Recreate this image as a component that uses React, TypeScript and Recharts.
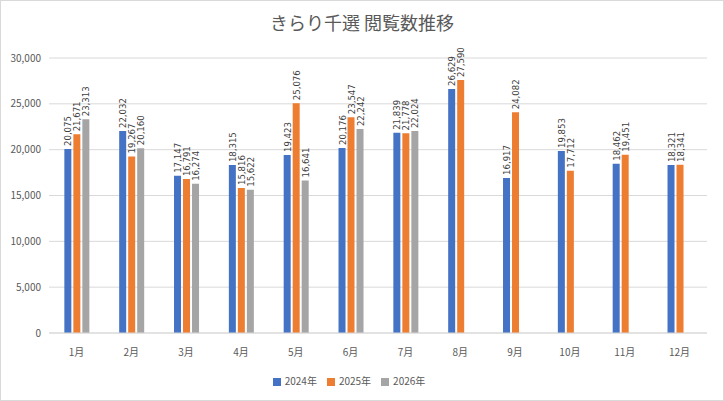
import React from "react";
import { BarChart, Bar, XAxis, YAxis, CartesianGrid, Legend, LabelList } from "recharts";

const months = ["1月","2月","3月","4月","5月","6月","7月","8月","9月","10月","11月","12月"];
const y2024 = [20075,22032,17147,18315,19423,20176,21839,26629,16917,19853,18462,18321];
const y2025 = [21671,19267,16791,15816,25076,23547,21778,27590,24082,17712,19451,18341];
const y2026: (number | null)[] = [23313,20160,16274,15622,16641,22242,22024,null,null,null,null,null];
const yTicks = [0,5000,10000,15000,20000,25000,30000];

const data = months.map((m, i) => ({ month: m, a: y2024[i], b: y2025[i], c: y2026[i] }));

const fmt = (v: number) => v.toLocaleString("en-US");

const VLabel = (props: any) => {
  const { x, y, width, value } = props;
  if (value == null) return null;
  const cx = x + width / 2 + 3.5;
  const cy = y - 3;
  return (
    <text x={cx} y={cy} transform={`rotate(-90 ${cx} ${cy})`} textAnchor="start" fontSize={9.5} fill="#404040" fontFamily="'Liberation Sans Narrow', 'DejaVu Sans Condensed', sans-serif">
      {fmt(value)}
    </text>
  );
};

export default function App() {
  return (
    <div style={{ position: "absolute", left: 0, top: 0, width: 722, height: 399, border: "1px solid #d9d9d9", background: "#fff", fontFamily: "'Noto Sans CJK JP', 'Noto Sans', sans-serif" }}>
      <div style={{ position: "absolute", top: 8, width: "100%", textAlign: "center", fontSize: 18, color: "#595959" }}>
        きらり千選 閲覧数推移
      </div>
      <BarChart width={722} height={399} data={data} margin={{ top: 57, right: 16, left: 0, bottom: 12 }} barCategoryGap="28%" barGap={2}>
        <CartesianGrid vertical={false} stroke="#d9d9d9" />
        <XAxis dataKey="month" tickLine={false} axisLine={{ stroke: "#d9d9d9" }} tick={{ fontSize: 10, fill: "#595959" }} tickMargin={10} height={40} />
        <YAxis ticks={yTicks} domain={[0, 30000]} tickFormatter={fmt} axisLine={false} tickLine={false} width={48} tick={{ fontSize: 10, fill: "#595959" }} />
        <Legend verticalAlign="bottom" iconType="square" iconSize={8} wrapperStyle={{ fontSize: 10 }} formatter={(v: string) => <span style={{ color: "#595959" }}>{v}</span>} />
        <Bar dataKey="a" name="2024年" fill="#4472C4" isAnimationActive={false}>
          <LabelList dataKey="a" content={VLabel} />
        </Bar>
        <Bar dataKey="b" name="2025年" fill="#ED7D31" isAnimationActive={false}>
          <LabelList dataKey="b" content={VLabel} />
        </Bar>
        <Bar dataKey="c" name="2026年" fill="#A5A5A5" isAnimationActive={false}>
          <LabelList dataKey="c" content={VLabel} />
        </Bar>
      </BarChart>
    </div>
  );
}
